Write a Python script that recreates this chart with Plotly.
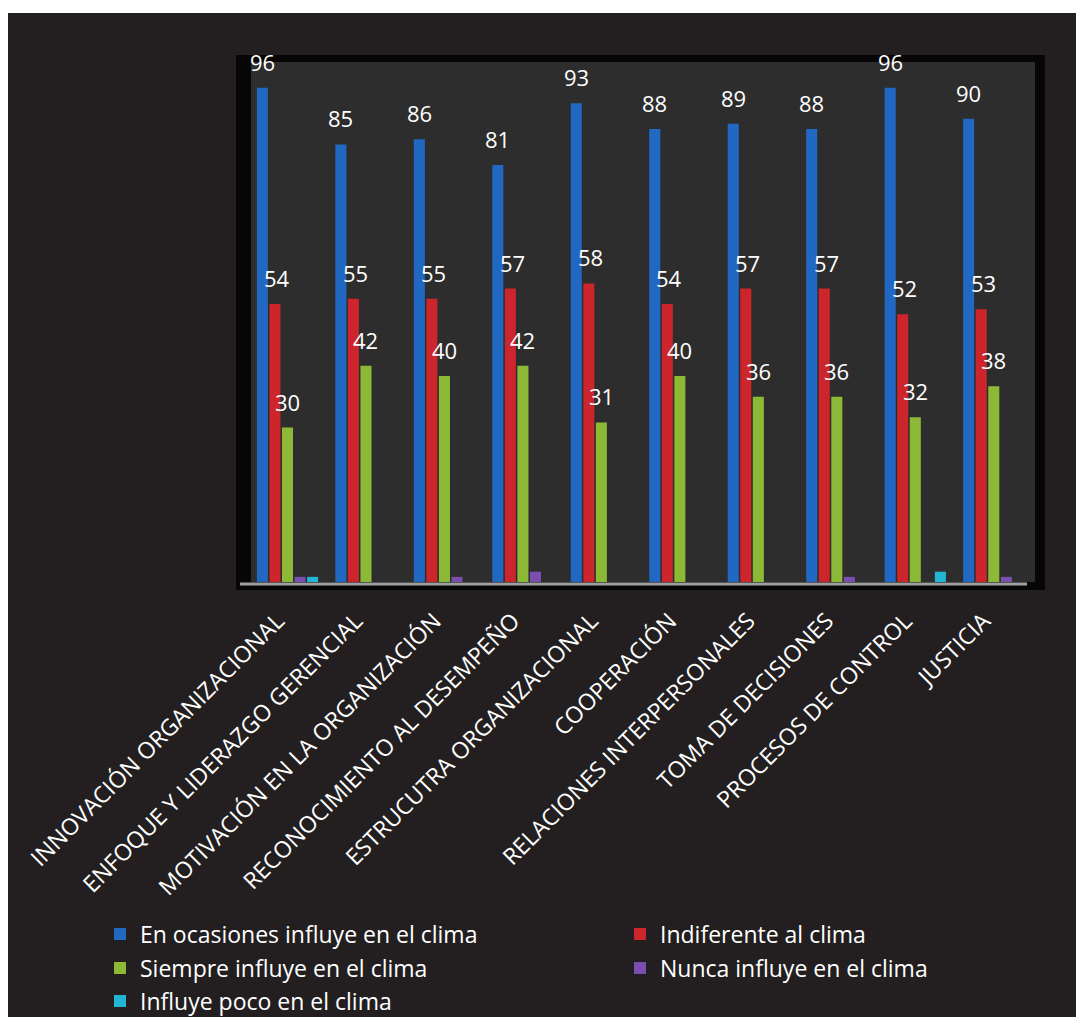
import plotly.graph_objects as go

categories = [
    "INNOVACIÓN ORGANIZACIONAL",
    "ENFOQUE Y LIDERAZGO GERENCIAL",
    "MOTIVACIÓN EN LA ORGANIZACIÓN",
    "RECONOCIMIENTO AL DESEMPEÑO",
    "ESTRUCUTRA ORGANIZACIONAL",
    "COOPERACIÓN",
    "RELACIONES INTERPERSONALES",
    "TOMA DE DECISIONES",
    "PROCESOS DE CONTROL",
    "JUSTICIA",
]
en_ocasiones = [96, 85, 86, 81, 93, 88, 89, 88, 96, 90]
indiferente = [54, 55, 55, 57, 58, 54, 57, 57, 52, 53]
siempre = [30, 42, 40, 42, 31, 40, 36, 36, 32, 38]
nunca = [1, 0, 1, 2, 0, 0, 0, 1, 0, 1]
poco = [1, 0, 0, 0, 0, 0, 0, 0, 2, 0]

series_names = [
    "En ocasiones influye en el clima",
    "Indiferente al clima",
    "Siempre influye en el clima",
    "Nunca influye en el clima",
    "Influye poco en el clima",
]

W, H = 1076, 1017
L, T, PW, PH = 248, 62, 785, 520
R = W - L - PW
B = H - T - PH

def px_x(px):
    return (px - L) / PW

def px_y(py):
    return (T + PH - py) / PH

colors = ["#2168c2", "#cc252b", "#8cba36", "#7b4fb0", "#22b6d4"]
values = [en_ocasiones, indiferente, siempre, nunca, poco]
legend_ids = ["legend", "legend2", "legend3", "legend4", "legend5"]

fig = go.Figure()
for name, vals, c, lg in zip(series_names, values, colors, legend_ids):
    fig.add_trace(go.Bar(
        x=categories, y=vals, name=name,
        marker=dict(color=c, line=dict(width=0)),
        legend=lg, hoverinfo="x+y+name",
    ))

font = "Open Sans, Lato, sans-serif"
ann = []
offsets = [-2, -1, 0]
for k, vals in enumerate(values[:3]):
    for i, v in enumerate(vals):
        ann.append(dict(
            x=categories[i], y=v, xref="x", yref="y",
            text=str(v), showarrow=False, yanchor="bottom",
            xshift=offsets[k] * 12.5 + (2 if k == 1 else 0), yshift=9,
            font=dict(family=font, size=22, color="white"),
        ))

shapes = [
    # white outer border strips
    dict(type="rect", xref="paper", yref="paper", x0=px_x(-5), x1=px_x(W + 5), y0=px_y(13), y1=px_y(-5),
         fillcolor="white", line=dict(width=0), layer="below"),
    dict(type="rect", xref="paper", yref="paper", x0=px_x(-5), x1=px_x(8), y0=px_y(H + 5), y1=px_y(-5),
         fillcolor="white", line=dict(width=0), layer="below"),
    # black frame
    dict(type="rect", xref="paper", yref="paper", x0=px_x(236), x1=px_x(1045), y0=px_y(590), y1=px_y(55),
         fillcolor="#060606", line=dict(width=0), layer="below"),
    # inner gray wall
    dict(type="rect", xref="paper", yref="paper", x0=px_x(251), x1=px_x(1035), y0=px_y(582), y1=px_y(62),
         fillcolor="#2d2d2d", line=dict(width=0), layer="below"),
    # floor line
    dict(type="line", xref="paper", yref="paper", x0=px_x(240), x1=px_x(1027), y0=px_y(584), y1=px_y(584),
         line=dict(color="#a0a0a0", width=3), layer="below"),
]

leg_common = dict(orientation="h", font=dict(family=font, size=23, color="white"),
                  bgcolor="rgba(0,0,0,0)", xanchor="left", yanchor="middle", itemclick=False)
col1, col2 = px_x(100), px_x(620)

fig.update_layout(
    width=W, height=H,
    margin=dict(l=L, r=R, t=T, b=B, pad=0, autoexpand=False),
    paper_bgcolor="#231f20",
    plot_bgcolor="rgba(0,0,0,0)",
    barmode="group", bargap=0.2, bargroupgap=0.12,
    showlegend=True,
    legend=dict(leg_common, x=col1, y=px_y(934)),
    legend2=dict(leg_common, x=col2, y=px_y(934)),
    legend3=dict(leg_common, x=col1, y=px_y(968)),
    legend4=dict(leg_common, x=col2, y=px_y(968)),
    legend5=dict(leg_common, x=col1, y=px_y(1001)),
    xaxis=dict(tickangle=-45, showgrid=False, zeroline=False, showline=False, ticks="",
               automargin=False, ticklabelstandoff=20, ticklabelshift=-10,
               tickfont=dict(family=font, size=23, color="white")),
    yaxis=dict(range=[0, 101], visible=False, showgrid=False, automargin=False),
    annotations=ann,
    shapes=shapes,
    font=dict(family=font, color="white"),
)

fig.write_html("out.html")
